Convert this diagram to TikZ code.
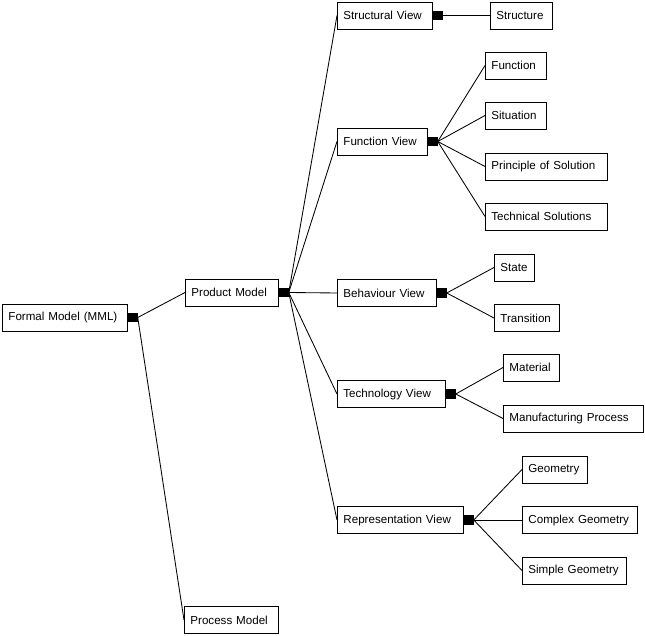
\documentclass[tikz,border=0pt]{standalone}
\usepackage{fontspec}
\setmainfont{Liberation Sans}
\begin{document}
\begin{tikzpicture}[x=1pt,y=-1pt,
  box/.style={draw, line width=0.85pt, inner xsep=6pt, inner ysep=0pt, minimum height=27pt,
    anchor=west, align=left, font=\fontsize{11.6}{13}\selectfont},
  sq/.style={fill=black, draw=none, inner sep=0pt, minimum size=9.5pt, anchor=west},
  link/.style={line width=0.85pt}]
\useasboundingbox (0,0) rectangle (645,636);
% level 0
\node[box, text width=113pt] (f) at (2,317.5) {Formal Model (MML)};
% level 1
\node[box, text width=81pt] (pm) at (185,292.5) {Product Model};
\node[box, text width=82pt] (proc) at (184,620) {Process Model};
% level 2
\node[box, text width=83pt] (sv) at (337,15.5) {Structural View};
\node[box, text width=78pt] (fv) at (337,141.5) {Function View};
\node[box, text width=87pt] (bv) at (337,293) {Behaviour View};
\node[box, text width=96pt] (tv) at (337,394) {Technology View};
\node[box, text width=114pt] (rv) at (337,520) {Representation View};
% level 3
\node[box, text width=50pt] (st) at (490,15.5) {Structure};
\node[box, text width=49pt] (fn) at (485,65.5) {Function};
\node[box, text width=49pt] (si) at (485,115.5) {Situation};
\node[box, text width=110pt] (ps) at (485,166.5) {Principle of Solution};
\node[box, text width=110pt] (ts) at (485,216.5) {Technical Solutions};
\node[box, text width=28pt] (sta) at (494,267.5) {State};
\node[box, text width=53pt] (tr) at (494,318) {Transition};
\node[box, text width=44pt] (ma) at (503,367.5) {Material};
\node[box, text width=128pt] (mp) at (503,418.5) {Manufacturing Process};
\node[box, text width=53pt] (ge) at (522,469.5) {Geometry};
\node[box, text width=103pt] (cg) at (522,520) {Complex Geometry};
\node[box, text width=92pt] (sg) at (522,570.5) {Simple Geometry};
% squares
\node[sq] (fq) at (f.east) {};
\node[sq] (pq) at (pm.east) {};
\node[sq] (svq) at (sv.east) {};
\node[sq] (fvq) at (fv.east) {};
\node[sq] (bvq) at (bv.east) {};
\node[sq] (tvq) at (tv.east) {};
\node[sq] (rvq) at (rv.east) {};
% connectors
\draw[link] (fq.east) -- (pm.west);
\draw[link] (fq.east) -- (proc.west);
\foreach \c in {sv,fv,bv,tv,rv} \draw[link] (pq.east) -- (\c.west);
\draw[link] (svq.east) -- (st.west);
\foreach \c in {fn,si,ps,ts} \draw[link] (fvq.east) -- (\c.west);
\foreach \c in {sta,tr} \draw[link] (bvq.east) -- (\c.west);
\foreach \c in {ma,mp} \draw[link] (tvq.east) -- (\c.west);
\foreach \c in {ge,cg,sg} \draw[link] (rvq.east) -- (\c.west);
\end{tikzpicture}
\end{document}
